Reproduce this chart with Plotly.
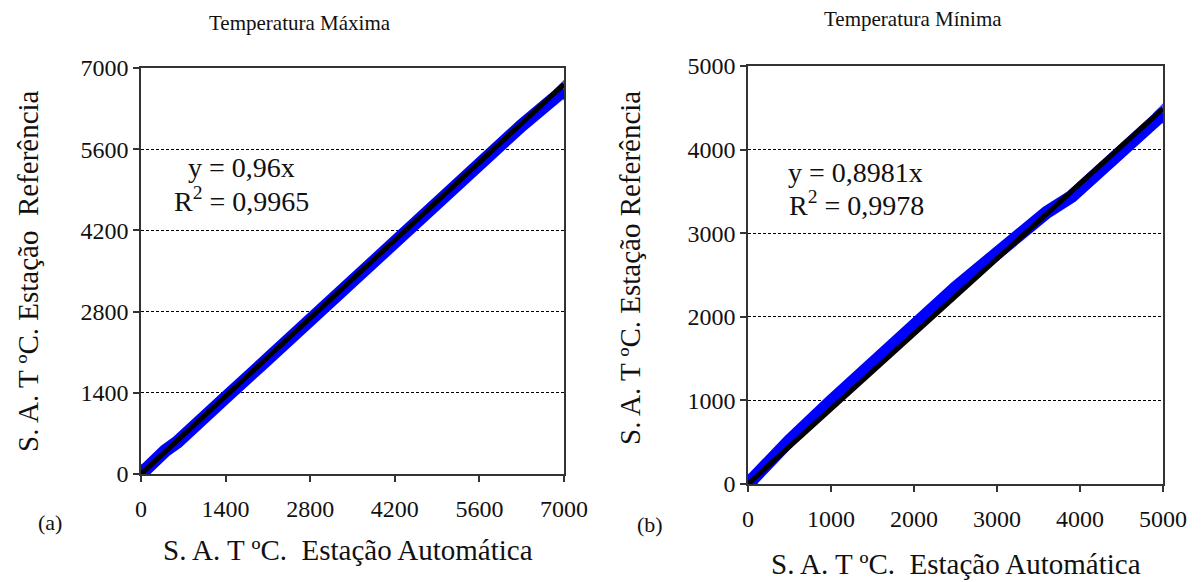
import plotly.graph_objects as go

# page body has an 8px margin: figure drawn 8px in from the top-left corner
OFF = 8
W, H = 1202 - OFF, 582 - OFF

# ---- data ----
max_auto = [0, 200, 400, 600, 800, 1000, 1400, 2000, 2800, 3500, 4200, 5000, 5600, 6300, 7000]
max_ref = [0, 220, 400, 550, 730, 920, 1320, 1890, 2660, 3330, 4010, 4770, 5340, 6010, 6620]
max_slope = 0.96
max_r2 = "0,9965"

min_auto = [0, 200, 500, 1000, 1500, 2000, 2500, 3000, 3300, 3600, 3900, 4300, 4700, 5000]
min_ref = [0, 210, 520, 990, 1460, 1920, 2350, 2760, 3000, 3250, 3440, 3800, 4160, 4430]
min_slope = 0.8981
min_r2 = "0,9978"

max_ticks = [0, 1400, 2800, 4200, 5600, 7000]
min_ticks = [0, 1000, 2000, 3000, 4000, 5000]

FONT = "Liberation Serif"
TXT = "#111111"

fig = go.Figure()

def add_panel(xs, ys, slope, xa, ya):
    sizes = [16] + [0] * (len(xs) - 2) + [16]
    fig.add_trace(go.Scatter(
        x=xs, y=ys, mode="lines+markers", xaxis=xa, yaxis=ya,
        line=dict(color="#0000FF", width=13),
        marker=dict(symbol="diamond", size=sizes, color="#0000FF", line=dict(width=0)),
        showlegend=False, hoverinfo="skip"))
    tx = [xs[0], xs[-1]]
    fig.add_trace(go.Scatter(
        x=tx, y=[slope * v for v in tx], mode="lines", xaxis=xa, yaxis=ya,
        line=dict(color="#000000", width=5),
        showlegend=False, hoverinfo="skip"))

add_panel(max_auto, max_ref, max_slope, "x", "y")
add_panel(min_auto, min_ref, min_slope, "x2", "y2")

def px(x):
    return (x - OFF) / W

def py(y):
    return 1 - (y - OFF) / H

axis_common = dict(
    showline=True, linecolor="#333333", linewidth=1.5, mirror=True,
    ticks="outside", ticklen=6, tickcolor="#333333", tickwidth=1.5,
    tickfont=dict(family=FONT, size=24, color=TXT), zeroline=False,
    automargin=False,
)
grid = dict(showgrid=True, gridcolor="#000000", gridwidth=1, griddash="3px,2px")

fig.update_layout(
    width=W, height=H, margin=dict(l=0, r=0, t=0, b=0, autoexpand=False),
    paper_bgcolor="white", plot_bgcolor="white",
    font=dict(family=FONT, color=TXT),
    xaxis=dict(domain=[px(141), px(564)], range=[0, 7000], tickvals=max_ticks,
               showgrid=False, anchor="y", ticklabelstandoff=6, **axis_common),
    yaxis=dict(domain=[py(474), py(68)], range=[0, 7000], tickvals=max_ticks,
               anchor="x", **grid, **axis_common),
    xaxis2=dict(domain=[px(748), px(1163)], range=[0, 5000], tickvals=min_ticks,
                showgrid=False, anchor="y2", ticklabelstandoff=6, **axis_common),
    yaxis2=dict(domain=[py(484), py(66)], range=[0, 5000], tickvals=min_ticks,
                anchor="x2", **grid, **axis_common),
)

def ann(text, x, y, size, angle=0):
    fig.add_annotation(text=text, x=px(x), y=py(y), xref="paper", yref="paper",
                       showarrow=False, xanchor="center", yanchor="middle",
                       textangle=angle, font=dict(family=FONT, size=size, color=TXT))

ann("Temperatura Máxima", 300, 23, 21)
ann("Temperatura Mínima", 913, 19, 21)
ann("S. A. T ºC.  Estação Automática", 348, 550, 29)
ann("S. A. T ºC.  Estação Automática", 956, 564, 29)
ann("S. A. T ºC. Estação  Referência", 28, 271, 29, -90)
ann("S. A. T ºC. Estação Referência", 630, 268, 29, -90)
ann("(a)", 50, 522, 22)
ann("(b)", 650, 524, 22)
ann("y = " + str(max_slope).replace(".", ",") + "x", 241, 168, 28)
ann("R<sup>2</sup> = " + max_r2, 241, 199, 28)
ann("y = " + str(min_slope).replace(".", ",") + "x", 855, 172, 28)
ann("R<sup>2</sup> = " + min_r2, 856, 203, 28)

fig.write_html("out.html")
